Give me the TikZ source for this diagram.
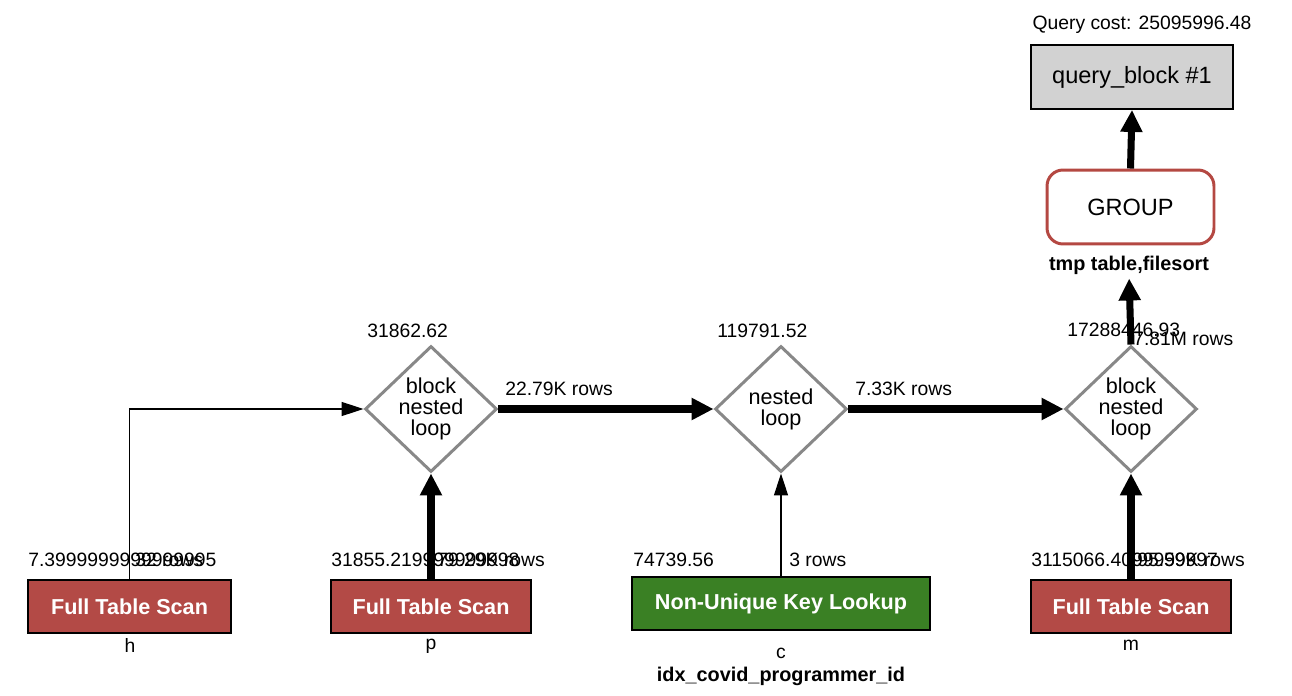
\documentclass[tikz,border=0pt]{standalone}
\usepackage{fontspec}
\setmainfont{Liberation Sans}
\usetikzlibrary{shapes.geometric,arrows.meta}
\definecolor{scanred}{RGB}{179,74,70}
\definecolor{lookgreen}{RGB}{58,128,36}
\definecolor{grpred}{RGB}{180,72,66}
\definecolor{loopgray}{RGB}{136,136,136}
\definecolor{qbgray}{RGB}{210,210,210}
\begin{document}
\begin{tikzpicture}[x=0.02cm,y=-0.02cm,font=\fontsize{11}{13}\selectfont,
	lbl/.style={anchor=base west,inner sep=0},
	loopnode/.style={diamond,draw=loopgray,line width=1.7pt,fill=white,inner sep=0,aspect=1.05,
		minimum width=2.64cm,minimum height=2.52cm,align=center,font=\fontsize{12.3}{12}\selectfont},
	scan/.style={draw=black,line width=1.1pt,fill=scanred,text=white,minimum height=1.06cm,
		font=\fontsize{12.3}{14}\selectfont\bfseries},
	fat/.style={line width=4pt,-{Triangle[width=0.42cm,length=0.44cm]}},
	slim/.style={line width=0.85pt,-{Triangle[width=0.28cm,length=0.44cm]}}]
	\useasboundingbox (0,0) rectangle (1292,696);
	% top
	\node[inner sep=0] (qcost) at (1142,25) {Query cost: 25095996.48};
	\node[draw,line width=1.1pt,fill=qbgray,minimum width=4.04cm,minimum height=1.28cm,
		font=\fontsize{13.4}{15}\selectfont] (qb) at (1132,77) {query\_block \#1};
	\node[draw=grpred,line width=1.7pt,rounded corners=0.32cm,minimum width=3.34cm,minimum height=1.48cm,
		font=\fontsize{13.4}{15}\selectfont] (grp) at (1130.5,207) {GROUP};
	\node[anchor=base,inner sep=0,font=\fontsize{11.3}{13}\selectfont\bfseries] (tmp) at (1129,270) {tmp table,filesort};
	% joins
	\node[loopnode] (bnl1) at (431,409) {block\\nested\\loop};
	\node[loopnode] (nl2) at (781,409) {nested\\loop};
	\node[loopnode] (bnl3) at (1131,409) {block\\nested\\loop};
	\node[lbl] (cost1) at (367,337) {31862.62};
	\node[lbl] (cost2) at (717,337) {119791.52};
	\node[lbl] (cost3) at (1067,336) {17288446.93};
	% tables
	\node[scan,minimum width=4.06cm] (h) at (129.5,606.5) {Full Table Scan};
	\node[scan,minimum width=4.0cm] (p) at (431,606.5) {Full Table Scan};
	\node[scan,minimum width=5.96cm,fill=lookgreen] (c) at (781,603.5) {Non-Unique Key Lookup};
	\node[scan,minimum width=4.0cm] (m) at (1131,606.5) {Full Table Scan};
	\node[inner sep=0] (hname) at (130,645) {h};
	\node[inner sep=0] (pname) at (431,646) {p};
	\node[inner sep=0] (cname) at (781,653) {c};
	\node[inner sep=0,font=\fontsize{11.3}{13}\selectfont\bfseries] (cidx) at (781,676) {idx\_covid\_programmer\_id};
	\node[inner sep=0] (mname) at (1131,645) {m};
	\node[lbl] (hcost) at (28,566) {7.3999999999999995};
	\node[lbl] (pcost) at (331,566) {31855.219999999998};
	\node[lbl] (ccost) at (633,566) {74739.56};
	\node[lbl] (mcost) at (1031,566) {3115066.4099999997};
	% edges
	\draw[slim] (h.north) |- (bnl1.west);
	\draw[fat] (p.north) -- (bnl1.south);
	\draw[slim] (c.north) -- (nl2.south);
	\draw[fat] (m.north) -- (bnl3.south);
	\draw[fat] (bnl1.east) -- (nl2.west);
	\draw[fat] (nl2.east) -- (bnl3.west);
	\draw[fat,shorten >=0.08cm] (bnl3.north) -- (tmp.south);
	\draw[fat] (grp.north) -- (qb.south);
	% row counts
	\node[lbl] (hrows) at (135,566) {32 rows};
	\node[lbl] (prows) at (437,566) {79.29K rows};
	\node[lbl] (crows) at (789,566) {3 rows};
	\node[lbl] (mrows) at (1137,566) {95.59K rows};
	\node[lbl] (rows1) at (505,395) {22.79K rows};
	\node[lbl] (rows2) at (855,395) {7.33K rows};
	\node[lbl] (rows3) at (1133,345) {7.81M rows};
\end{tikzpicture}
\end{document}
